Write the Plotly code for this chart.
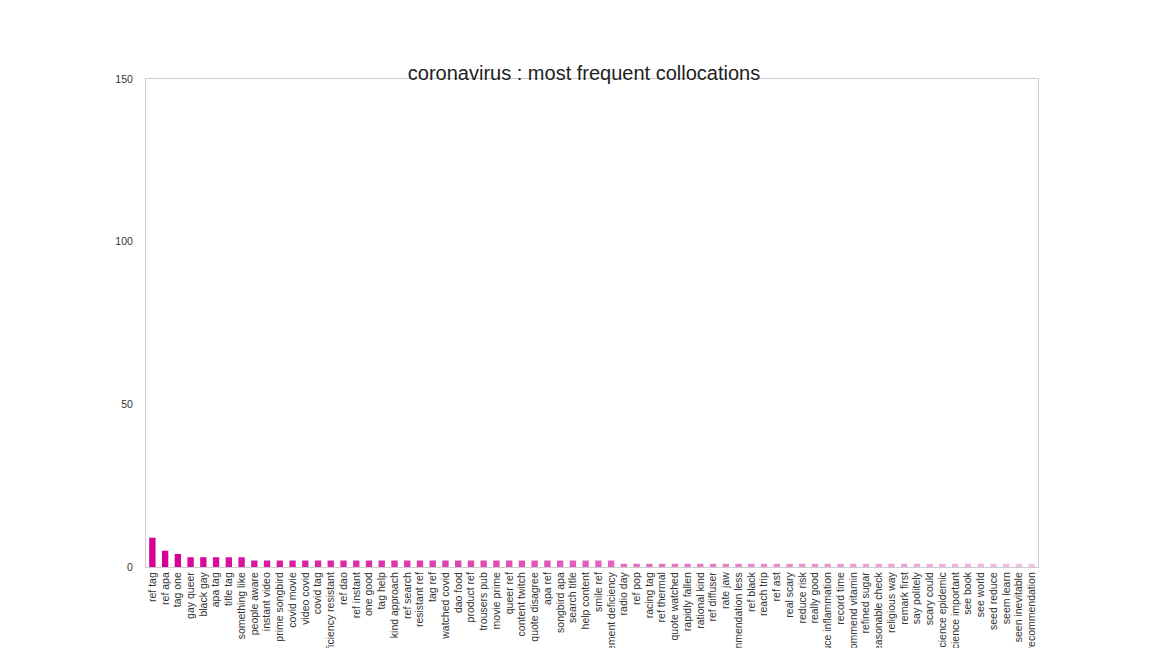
import plotly.graph_objects as go
import numpy as np

labels = ["ref tag","ref apa","tag one","gay queer","black gay","apa tag","title tag","something like",
"people aware","instant video","prime songbird","covid movie","video covid","covid tag","deficiency resistant",
"ref dao","ref instant","one good","tag help","kind approach","ref search","resistant ref","tag ref","watched covid",
"dao food","product ref","trousers pub","movie prime","queer ref","content twitch","quote disagree","apa ref",
"songbird apa","search title","help content","smile ref","supplement deficiency",
"radio day","ref pop","racing tag","ref thermal","quote watched","rapidly fallen","rational kind","ref diffuser",
"rate jaw","recommendation less","ref black","reach trip","ref ast","real scary","reduce risk","really good",
"reduce inflammation","record time","recommend vitamin","refined sugar","reasonable check","religious way",
"remark first","say politely","scary could","science epidemic","science important","see book","see world",
"seed reduce","seem learn","seen inevitable","see recommendation"]
values = [9,5,4,3,3,3,3,3] + [2]*29 + [1]*33

n = len(labels)
c0 = np.array([214, 0, 150]); c1 = np.array([242, 196, 228])
colors = [f"rgb({int(a)},{int(b)},{int(c)})" for a, b, c in (c0 + (c1 - c0) * (i / (n - 1)) for i in range(n))]

fig = go.Figure(go.Bar(x=labels, y=values, marker=dict(color=colors, line_width=0), width=0.5))
fig.update_layout(
    width=1152, height=648, paper_bgcolor="white", plot_bgcolor="white",
    margin=dict(l=138, r=122, t=71, b=89, autoexpand=False),
    title=dict(text="coronavirus : most frequent collocations", x=0.5, xanchor="center", y=0.9, yanchor="middle",
               font=dict(family="Liberation Sans, Arial", size=20, color="#222")),
    font=dict(family="Liberation Sans, Arial", size=10.5, color="#333"),
    showlegend=False, bargap=0.5,
)
fig.update_xaxes(tickangle=-90, showgrid=False, showline=True, linecolor="#ccc", mirror=True,
                 range=[-0.5, n - 0.5], ticks="", automargin=False, tickmode="linear", dtick=1,
                 tickfont=dict(size=10.5))
fig.update_yaxes(range=[0, 150], tickvals=[0, 50, 100, 150], showgrid=False, showline=True, linecolor="#ccc",
                 mirror=True, zeroline=False, ticks="", automargin=False, ticklabelstandoff=10)
fig.write_html("out.html")
